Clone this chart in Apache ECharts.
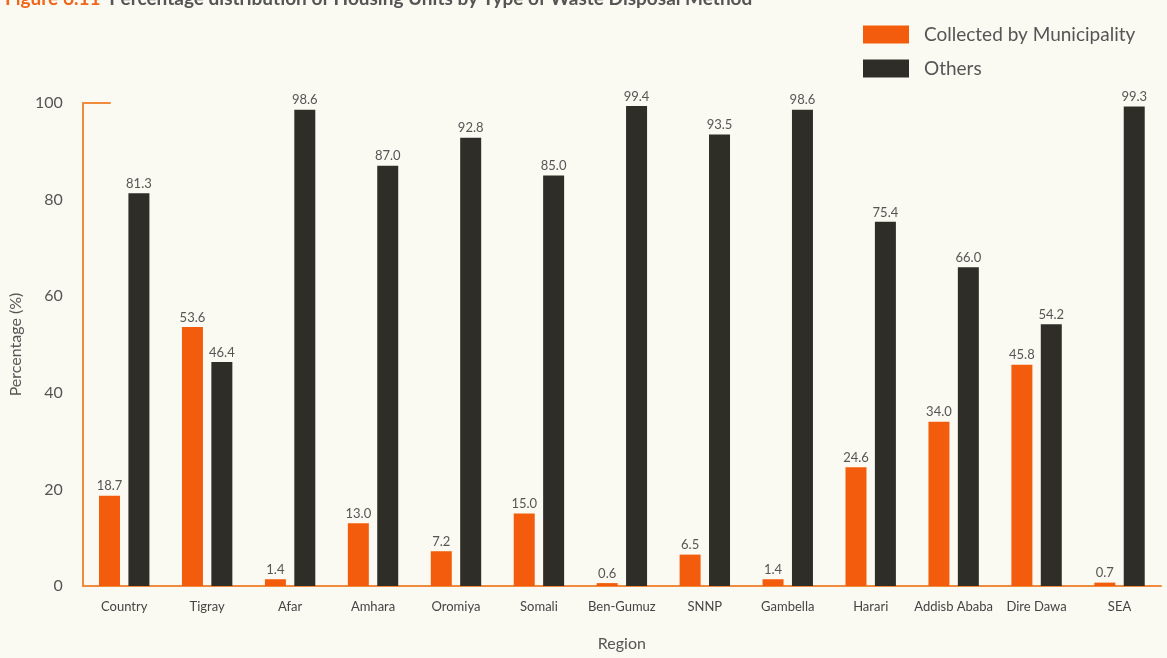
<!DOCTYPE html>
<html>
<head>
<meta charset="utf-8">
<script src="https://cdn.jsdelivr.net/npm/echarts@6/dist/echarts.min.js"></script>
<style>
html,body{margin:0;padding:0;background:#fbfaf2;}
#c{width:1167px;height:658px;}
</style>
</head>
<body>
<div id="c"></div>
<script>
const regions = ['Country','Tigray','Afar','Amhara','Oromiya','Somali','Ben-Gumuz','SNNP','Gambella','Harari','Addisb Ababa','Dire Dawa','SEA'];
const collectedByMunicipality = [18.7,53.6,1.4,13.0,7.2,15.0,0.6,6.5,1.4,24.6,34.0,45.8,0.7];
const others = [81.3,46.4,98.6,87.0,92.8,85.0,99.4,93.5,98.6,75.4,66.0,54.2,99.3];
const yTicks = [0,20,40,60,80,100];

const FONT = 'Lato';
const orange = '#f25c0c';
const dark = '#2e2d28';
const axisOrange = '#f08a3c';

const chart = echarts.init(document.getElementById('c'), null, {renderer:'canvas'});
const labelCfg = {
  show:true, position:'top', distance:3, fontFamily:FONT, fontSize:13, color:'#555',
  formatter: p => p.value.toFixed(1)
};
chart.setOption({
  backgroundColor:'#fbfaf2',
  textStyle:{fontFamily:FONT},
  title:{
    text:'{a|Figure 6.11}  {b|Percentage distribution of Housing Units by Type of Waste Disposal Method}',
    left:0, top:-16,
    textStyle:{rich:{
      a:{fontFamily:FONT,fontSize:19,fontWeight:'bold',color:'#f0661a'},
      b:{fontFamily:FONT,fontSize:19,color:'#555'}
    }}
  },
  legend:{
    orient:'vertical', left:858, top:20, itemWidth:46, itemHeight:18, itemGap:15,
    icon:'rect',
    textStyle:{fontFamily:FONT,fontSize:19,color:'#555',padding:[0,0,0,10]},
    data:['Collected by Municipality','Others']
  },
  grid:{left:74, right:6, top:103, bottom:72, containLabel:false},
  xAxis:{
    type:'category', data:regions,
    name:'Region', nameLocation:'middle', nameGap:50,
    nameTextStyle:{fontFamily:FONT,fontSize:16,color:'#555'},
    axisLine:{lineStyle:{color:axisOrange,width:2}},
    axisTick:{show:false},
    axisLabel:{fontFamily:FONT,fontSize:13,color:'#444',margin:14,interval:0}
  },
  yAxis:[{
    type:'value', min:0, max:100, interval:20,
    name:'Percentage (%)', nameLocation:'middle', nameGap:52,
    nameTextStyle:{fontFamily:FONT,fontSize:16,color:'#555'},
    axisLine:{show:true,lineStyle:{color:axisOrange,width:2}},
    axisTick:{show:false},
    splitLine:{show:false},
    axisLabel:{fontFamily:FONT,fontSize:16,color:'#555',margin:20,
      formatter: v => yTicks.includes(v) ? String(v) : ''}
  },{
    type:'value', min:0, max:100, interval:100, position:'left',
    axisLine:{show:false},
    axisTick:{show:true,inside:true,length:28,lineStyle:{color:axisOrange,width:2}},
    axisLabel:{show:false}, splitLine:{show:false}
  }],
  series:[{
    name:'Collected by Municipality', type:'bar', data:collectedByMunicipality,
    barWidth:21, barGap:'40%',
    itemStyle:{color:orange}, label:labelCfg
  },{
    name:'Others', type:'bar', data:others,
    barWidth:21,
    itemStyle:{color:dark}, label:labelCfg
  }]
});
</script>
</body>
</html>
